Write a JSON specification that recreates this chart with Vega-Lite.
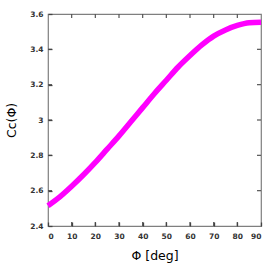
{
  "$schema": "https://vega.github.io/schema/vega-lite/v6.json",
  "width": 213,
  "height": 212,
  "autosize": "none",
  "padding": {"left": 48, "top": 14, "right": 9, "bottom": 37},
  "background": "white",
  "config": {
    "view": {"stroke": "#7f7f7f", "strokeWidth": 1.2},
    "axis": {
      "labelFont": "DejaVu Sans",
      "labelFontSize": 7.5,
      "labelFontWeight": "bold",
      "labelColor": "#333333",
      "labelOverlap": false,
      "titleFont": "DejaVu Sans",
      "titleFontWeight": "normal",
      "titleColor": "#000000",
      "titleFontSize": 12.5,
      "domain": false,
      "grid": false
    }
  },
  "datasets": {
    "curve": [
      {"phi": 0, "c": 2.515},
      {"phi": 5, "c": 2.565},
      {"phi": 10, "c": 2.625},
      {"phi": 15, "c": 2.69},
      {"phi": 20, "c": 2.76},
      {"phi": 25, "c": 2.835},
      {"phi": 30, "c": 2.91},
      {"phi": 35, "c": 2.99},
      {"phi": 40, "c": 3.07},
      {"phi": 45, "c": 3.15},
      {"phi": 50, "c": 3.225},
      {"phi": 55, "c": 3.3},
      {"phi": 60, "c": 3.365},
      {"phi": 65, "c": 3.425},
      {"phi": 70, "c": 3.475},
      {"phi": 75, "c": 3.51},
      {"phi": 80, "c": 3.535},
      {"phi": 85, "c": 3.55},
      {"phi": 90, "c": 3.553}
    ],
    "xticks": [{"t": 10}, {"t": 20}, {"t": 30}, {"t": 40}, {"t": 50}, {"t": 60}, {"t": 70}, {"t": 80}],
    "yticks": [{"t": 2.6}, {"t": 2.8}, {"t": 3.0}, {"t": 3.2}, {"t": 3.4}]
  },
  "layer": [
    {
      "data": {"name": "curve"},
      "mark": {"type": "line", "color": "#ff00ff", "strokeWidth": 5.5, "interpolate": "monotone", "clip": false},
      "encoding": {
        "x": {"field": "phi", "type": "quantitative", "scale": {"domain": [0, 90], "nice": false},
          "axis": {"orient": "bottom", "values": [0,10,20,30,40,50,60,70,80,90], "format": "d", "title": "Φ [deg]", "labelPadding": 6, "titlePadding": 10,
            "ticks": true, "tickSize": 4, "tickColor": "#444444", "tickWidth": 1.3, "offset": -4, "zindex": 1}},
        "y": {"field": "c", "type": "quantitative", "scale": {"domain": [2.4, 3.6], "nice": false, "zero": false},
          "axis": {"orient": "left", "values": [2.4,2.6,2.8,3.0,3.2,3.4,3.6], "format": "~g", "title": "Cᴄ(Φ)", "labelPadding": 5, "titlePadding": 11,
            "ticks": true, "tickSize": 4, "tickColor": "#444444", "tickWidth": 1.3, "offset": -4, "zindex": 1}}
      }
    },
    {
      "data": {"name": "xticks"},
      "mark": {"type": "tick", "orient": "vertical", "size": 8, "thickness": 1.2, "color": "#555555", "clip": true, "opacity": 1},
      "encoding": {
        "x": {"field": "t", "type": "quantitative", "axis": null},
        "y": {"datum": 2.4, "type": "quantitative", "axis": null}
      }
    },
    {
      "data": {"name": "xticks"},
      "mark": {"type": "tick", "orient": "vertical", "size": 8, "thickness": 1.2, "color": "#555555", "clip": true, "opacity": 1},
      "encoding": {
        "x": {"field": "t", "type": "quantitative", "axis": null},
        "y": {"datum": 3.6, "type": "quantitative", "axis": null}
      }
    },
    {
      "data": {"name": "yticks"},
      "mark": {"type": "tick", "orient": "horizontal", "size": 8, "thickness": 1.2, "color": "#555555", "clip": true, "opacity": 1},
      "encoding": {
        "y": {"field": "t", "type": "quantitative", "axis": null},
        "x": {"datum": 0, "type": "quantitative", "axis": null}
      }
    },
    {
      "data": {"name": "yticks"},
      "mark": {"type": "tick", "orient": "horizontal", "size": 8, "thickness": 1.2, "color": "#555555", "clip": true, "opacity": 1},
      "encoding": {
        "y": {"field": "t", "type": "quantitative", "axis": null},
        "x": {"datum": 90, "type": "quantitative", "axis": null}
      }
    }
  ],
  "resolve": {"axis": {"x": "independent", "y": "independent"}}
}
